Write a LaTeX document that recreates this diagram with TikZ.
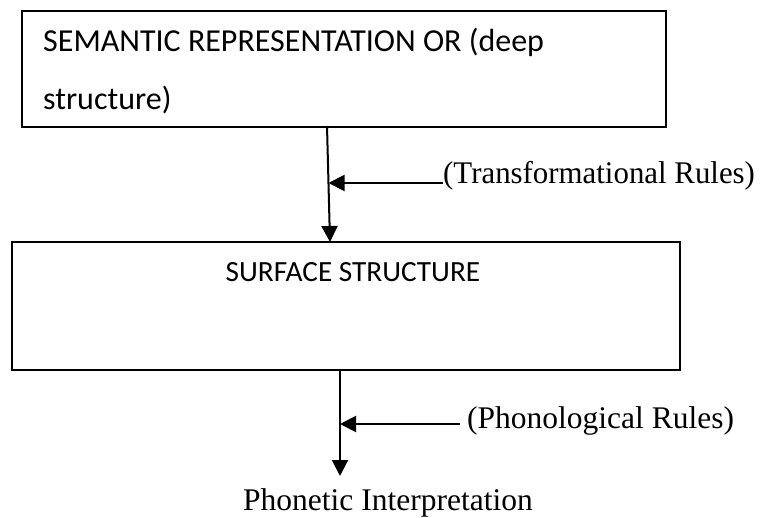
\documentclass[tikz,border=0pt]{standalone}
\usepackage{fontspec}
\newfontfamily\boxfont{Carlito}
\newfontfamily\serfont{Liberation Serif}
\usetikzlibrary{arrows.meta}
\tikzset{
  boxnode/.style={draw=black, line width=2pt, inner sep=0pt, outer sep=0pt, fill=white},
  boxtext/.style={inner sep=0pt, font=\boxfont\fontsize{32}{34}\selectfont},
  surftext/.style={inner sep=0pt, font=\boxfont\fontsize{29.3}{31}\selectfont},
  sertext/.style={inner sep=0pt, font=\serfont\fontsize{31.5}{33}\selectfont},
  conn/.style={line width=2pt, -{Triangle[length=16pt,width=16pt]}}
}
\begin{document}
\begin{tikzpicture}[x=1pt,y=-1pt]
\useasboundingbox (0,0) rectangle (767,518);
% boxes
\node[boxnode, minimum width=644pt, minimum height=116pt] (deep) at (344,69) {};
\node[boxnode, minimum width=668pt, minimum height=128pt] (surf) at (346,306) {};
% box texts
\node[boxtext, anchor=base west] (deepA) at (43,52) {SEMANTIC REPRESENTATION OR (deep};
\node[boxtext, anchor=base west] (deepB) at (43,110) {structure)};
\node[surftext, anchor=base] (surfT) at (353,281) {SURFACE STRUCTURE};
% labels
\node[sertext, anchor=base west, xscale=0.98] (trans) at (443,184) {(Transformational Rules)};
\node[sertext, anchor=base west] (phon) at (467,428) {(Phonological Rules)};
\node[sertext, anchor=base west] (phout) at (243,510) {Phonetic Interpretation};
% connector points
\coordinate (d1) at (327,126);
\coordinate (s1) at (330,242);
\coordinate (m1) at (328.5,183);
\coordinate (s2) at (340,370);
\coordinate (p2) at (340,476);
\coordinate (m2) at (340,424);
% connectors
\draw[conn] (d1) -- (s1);
\draw[conn] (trans.west |- m1) -- (m1);
\draw[conn] (s2) -- (p2);
\draw[conn] (phon.west |- m2) ++(-7,0) -- (m2);
\end{tikzpicture}
\end{document}
